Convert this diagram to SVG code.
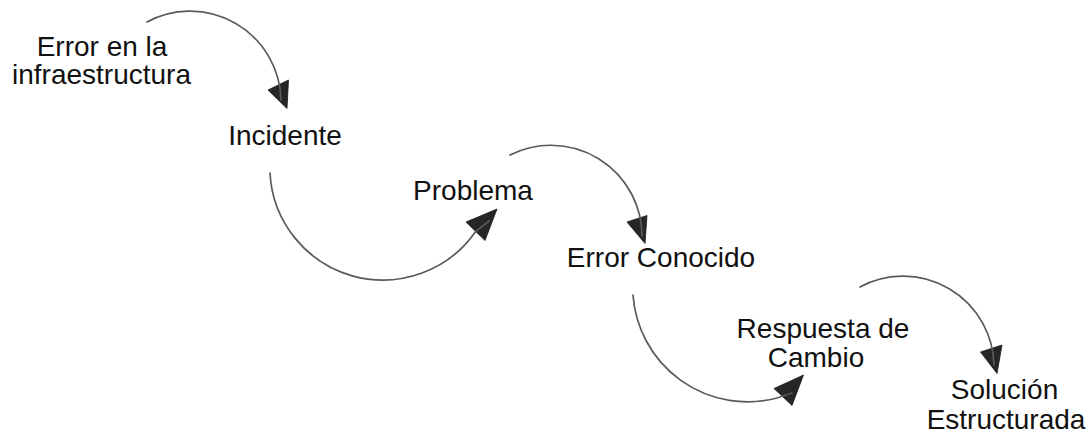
<svg xmlns="http://www.w3.org/2000/svg" width="1090" height="435" viewBox="0 0 1090 435">
  <style>
    .label { font-family: "Liberation Sans", Arial, sans-serif; font-size: 28px; fill: #111; text-anchor: middle; }
    .arc { fill: none; stroke: #5a5a5a; stroke-width: 1.7; stroke-linecap: round; }
    .head { fill: #262626; stroke: #1a1a1a; stroke-width: 0.8; stroke-linejoin: miter; }
  </style>
  <rect width="1090" height="435" fill="#ffffff"/>

  <!-- curved connectors: arrowhead first, the line then runs over it -->
  <g id="connectors">
    <g id="c1">
      <polygon class="head" points="287,108.5 268,90 288.5,80"/>
      <path class="arc" d="M147,22 A91,91 0 0 1 281,100"/>
    </g>
    <g id="c2">
      <polygon class="head" points="497,209 466,222 485,240.5"/>
      <path class="arc" d="M270,173 A113,113 0 0 0 476,231 L489,221"/>
    </g>
    <g id="c3">
      <polygon class="head" points="645,243.5 627,222 647,215.5"/>
      <path class="arc" d="M510,155 A91,91 0 0 1 642,236"/>
    </g>
    <g id="c4">
      <polygon class="head" points="803.5,375 774,388.5 792,405.5"/>
      <path class="arc" d="M633,295 A115,115 0 0 0 777,398 L792,393"/>
    </g>
    <g id="c5">
      <polygon class="head" points="997,373.5 980.5,352 1002,345"/>
      <path class="arc" d="M860,287 A91,91 0 0 1 994,365"/>
    </g>
  </g>

  <g id="n-error-infra">
    <text class="label" x="102" y="56">Error en la</text>
    <text class="label" x="101.5" y="84">infraestructura</text>
  </g>
  <g id="n-incidente">
    <text class="label" x="285" y="145">Incidente</text>
  </g>
  <g id="n-problema">
    <text class="label" x="473" y="200">Problema</text>
  </g>
  <g id="n-error-conocido">
    <text class="label" x="661" y="267">Error Conocido</text>
  </g>
  <g id="n-respuesta">
    <text class="label" x="823" y="338">Respuesta de</text>
    <text class="label" x="816" y="367">Cambio</text>
  </g>
  <g id="n-solucion">
    <text class="label" x="1004.5" y="399">Solución</text>
    <text class="label" x="1006" y="429">Estructurada</text>
  </g>
</svg>
